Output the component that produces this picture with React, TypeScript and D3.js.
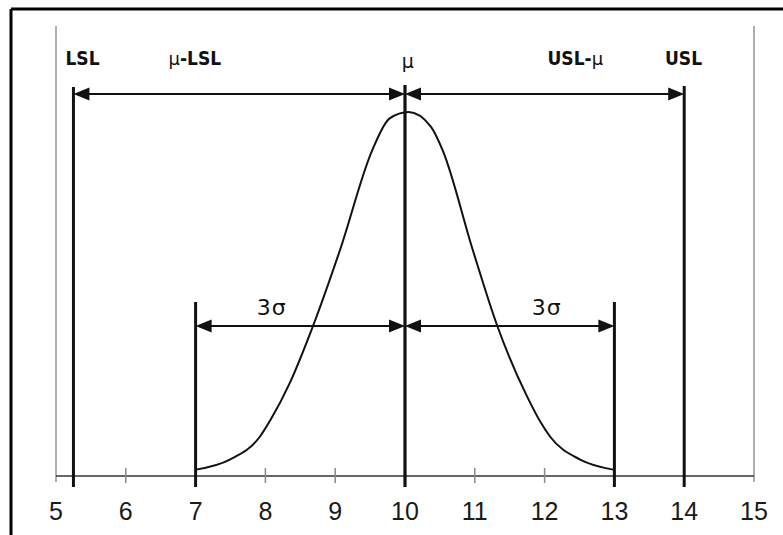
import React from "react";
import * as d3 from "d3";

const W = 783;
const H = 535;

// x-axis ticks
const tickValues = [5, 6, 7, 8, 9, 10, 11, 12, 13, 14, 15];
const minorTicks = [6, 8, 9, 11, 12];
const frameTicks = [5, 15];

// specification / process values
const LSL = 5.25;
const MU = 10;
const USL = 14;
const SIGMA_LOW = 7;
const SIGMA_HIGH = 13;

// normal-like curve
const curveX = [7.0, 7.49, 7.92, 8.07, 8.35, 8.68, 9.07, 9.53, 9.78, 10.05, 10.37, 10.54, 10.97, 11.32, 11.75, 11.95, 12.08, 12.51, 12.98];
const curveY = [0.007, 0.018, 0.043, 0.061, 0.102, 0.164, 0.248, 0.357, 0.392, 0.399, 0.383, 0.357, 0.248, 0.165, 0.087, 0.058, 0.043, 0.018, 0.007];

export default function App() {
  const x = d3.scaleLinear().domain([5, 15]).range([56, 754]);
  const y = d3.scaleLinear().domain([0, 0.399]).range([476, 112]);
  const baseY = y(0);

  const pts: [number, number][] = curveX.map((v, i) => [v, curveY[i]]);
  const line = d3
    .line<[number, number]>()
    .x((d) => x(d[0]))
    .y((d) => y(d[1]))
    .curve(d3.curveMonotoneX);

  const headL = 16;
  const headW = 6.5;
  const arrow = (x1: number, x2: number, yy: number, key: string) => {
    const a = x(x1);
    const b = x(x2);
    return (
      <g key={key}>
        <line x1={a + 4} x2={b - 4} y1={yy} y2={yy} stroke="#111" strokeWidth={2} />
        <path d={`M${a},${yy} L${a + headL},${yy - headW} L${a + headL},${yy + headW} Z`} fill="#111" />
        <path d={`M${b},${yy} L${b - headL},${yy - headW} L${b - headL},${yy + headW} Z`} fill="#111" />
      </g>
    );
  };

  const boldFont = "'Liberation Sans Narrow', 'DejaVu Sans Condensed', 'Arial Narrow', sans-serif";

  return (
    <svg width={W} height={H} style={{ position: "absolute", left: 0, top: 0, background: "#fff" }}>
      <rect x={0} y={0} width={W} height={H} fill="#fff" />
      {/* frame */}
      <line x1={11} x2={W} y1={9} y2={9} stroke="#000" strokeWidth={3} />
      <line x1={11} x2={11} y1={9} y2={H} stroke="#000" strokeWidth={3} />

      {/* grey frame ticks at 5 and 15 */}
      {frameTicks.map((t) => (
        <line key={"f" + t} x1={x(t)} x2={x(t)} y1={26} y2={482} stroke="#9a9a9a" strokeWidth={1.6} />
      ))}

      {/* axis */}
      <line x1={x(5)} x2={x(15)} y1={baseY} y2={baseY} stroke="#333" strokeWidth={1.6} />
      {minorTicks.map((t) => (
        <line key={"m" + t} x1={x(t)} x2={x(t)} y1={baseY - 8} y2={baseY + 7} stroke="#888" strokeWidth={1.5} />
      ))}
      {tickValues.map((t) => (
        <text
          key={"t" + t}
          x={x(t)}
          y={520}
          textAnchor="middle"
          fontFamily="'Liberation Sans', Arial, sans-serif"
          fontSize={25}
          fill="#1a1a1a"
        >
          {t}
        </text>
      ))}

      {/* curve */}
      <path d={line(pts) || ""} fill="none" stroke="#111" strokeWidth={2} />

      {/* vertical spec lines */}
      <line x1={x(LSL)} x2={x(LSL)} y1={87} y2={487} stroke="#111" strokeWidth={3} />
      <line x1={x(MU)} x2={x(MU)} y1={85} y2={487} stroke="#111" strokeWidth={3.2} />
      <line x1={x(USL)} x2={x(USL)} y1={86} y2={487} stroke="#111" strokeWidth={3} />
      <line x1={x(SIGMA_LOW)} x2={x(SIGMA_LOW)} y1={302} y2={487} stroke="#111" strokeWidth={3} />
      <line x1={x(SIGMA_HIGH)} x2={x(SIGMA_HIGH)} y1={302} y2={487} stroke="#111" strokeWidth={3} />

      {/* arrows */}
      {arrow(LSL, MU, 94, "a1")}
      {arrow(MU, USL, 94, "a2")}
      {arrow(SIGMA_LOW, MU, 326, "a3")}
      {arrow(MU, SIGMA_HIGH, 326, "a4")}

      {/* top labels */}
      <text x={x(5.38)} y={65} textAnchor="middle" fontFamily={boldFont} fontWeight="bold" fontSize={19} fill="#111">
        LSL
      </text>
      <text x={x(6.99)} y={65} textAnchor="middle" fontFamily={boldFont} fontWeight="bold" fontSize={19} fill="#111">
        <tspan fontWeight="normal" fontFamily="'DejaVu Sans', sans-serif" fontSize={18}>μ</tspan>-LSL
      </text>
      <text x={x(10.04)} y={68} textAnchor="middle" fontFamily="'DejaVu Sans', sans-serif" fontSize={19} fill="#111">
        μ
      </text>
      <text x={x(12.44)} y={65} textAnchor="middle" fontFamily={boldFont} fontWeight="bold" fontSize={19} fill="#111">
        USL-<tspan fontWeight="normal" fontFamily="'DejaVu Sans', sans-serif" fontSize={18}>μ</tspan>
      </text>
      <text x={x(13.99)} y={65} textAnchor="middle" fontFamily={boldFont} fontWeight="bold" fontSize={19} fill="#111">
        USL
      </text>

      {/* sigma labels */}
      <text x={x(8.09)} y={315} textAnchor="middle" fontFamily="'DejaVu Sans', sans-serif" fontSize={22} letterSpacing={1} fill="#111">
        3σ
      </text>
      <text x={x(12.03)} y={315} textAnchor="middle" fontFamily="'DejaVu Sans', sans-serif" fontSize={22} letterSpacing={1} fill="#111">
        3σ
      </text>
    </svg>
  );
}
